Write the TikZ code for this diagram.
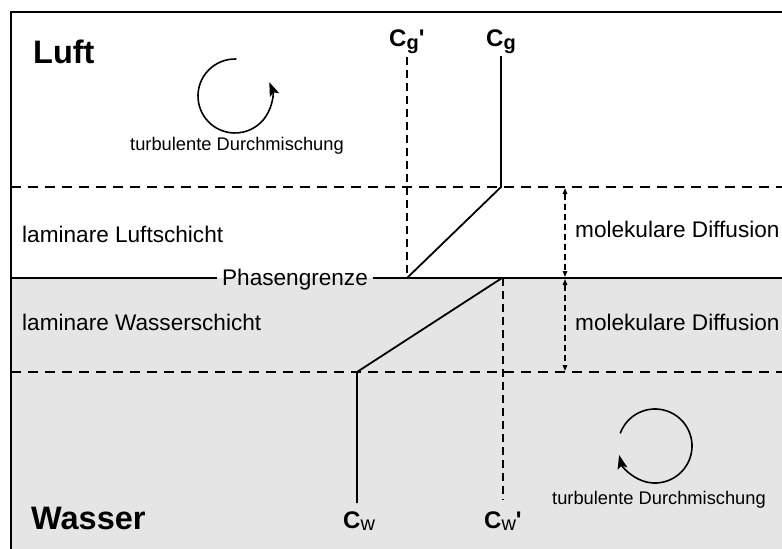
\documentclass[tikz,border=0pt]{standalone}
\usepackage{fontspec}
\setmainfont{Liberation Sans}
\newfontfamily\labelfont{Liberation Sans}
\usetikzlibrary{arrows.meta,calc}
\definecolor{waterfill}{RGB}{229,229,229}
\begin{document}
\begin{tikzpicture}[x=1pt,y=-1pt,
  every node/.style={inner sep=0pt},
  frameline/.style={line width=2.2pt},
  profile/.style={line width=1.8pt},
  layerdash/.style={line width=1.8pt, dash pattern=on 10pt off 7pt},
  profdash/.style={line width=1.8pt, dash pattern=on 8pt off 5pt},
  diffarrow/.style={line width=1.4pt, dash pattern=on 6pt off 4pt,
    {Triangle[length=6pt,width=4.5pt]}-{Triangle[length=6pt,width=4.5pt]}},
  eddy/.style={line width=1.6pt, -{Stealth[length=14pt,width=10pt,inset=3pt]}},
  phaselabel/.style={font=\fontsize{32.5}{36}\selectfont\bfseries, anchor=base west},
  layerlabel/.style={font=\fontsize{22.6}{26}\selectfont, anchor=base west},
  eddylabel/.style={font=\fontsize{18.3}{21}\selectfont, anchor=base},
  conclabel/.style={font=\labelfont\fontsize{24}{28}\selectfont, anchor=base west}
]
\useasboundingbox (0,0) rectangle (782,549);

% water body
\fill[waterfill] (11,278) rectangle (782,549);

% outer frame (top and left)
\draw[frameline] (11,549) -- (11,12) -- (782,12);

% boundaries of the laminar layers
\coordinate (airtopL) at (11,187);
\coordinate (airtopR) at (782,187);
\coordinate (watbotL) at (11,372);
\coordinate (watbotR) at (782,372);
\draw[layerdash] (airtopL) -- (airtopR);
\draw[layerdash] (watbotL) -- (watbotR);

% phase boundary with its label
\coordinate (pgL) at (11,278);
\coordinate (pgR) at (782,278);
\node[layerlabel, anchor=base, inner xsep=5pt] (pg) at (295,285) {Phasengrenze};
\draw[profile] (pgL) -- (pgL -| pg.west);
\draw[profile] (pg.east |- pgR) -- (pgR);

% region labels
\node[phaselabel] (luft) at (33,63) {Luft};
\node[phaselabel] (wasser) at (31,529) {Wasser};
\node[layerlabel] (lamL) at (22,242) {laminare Luftschicht};
\node[layerlabel] (lamW) at (22,330) {laminare Wasserschicht};
\node[layerlabel] (molL) at (575,237) {molekulare Diffusion};
\node[layerlabel] (molW) at (575,330) {molekulare Diffusion};

% concentration labels
\node[conclabel] (cg)  at (486,46) {\bfseries C\raisebox{-3pt}{\fontsize{20}{24}\selectfont g}};
\node[conclabel] (cgp) at (389,46) {\bfseries C\raisebox{-3pt}{\fontsize{20}{24}\selectfont g}'};
\node[conclabel] (cw)  at (343,528) {\textbf{C}\raisebox{-2pt}{\fontsize{20}{24}\selectfont w}};
\node[conclabel] (cwp) at (484,528) {\textbf{C}\raisebox{-2pt}{\fontsize{20}{24}\selectfont w}\textbf{'}};

% concentration profile
\coordinate (cgtop) at (501,56);
\coordinate (cgknee) at (501,187);
\coordinate (cgi) at (407,278);
\coordinate (cgptop) at (407,57);
\coordinate (cwi) at (502,278);
\coordinate (cwknee) at (357,372);
\coordinate (cwbot) at (357,503);
\coordinate (cwpi) at (503,278);
\coordinate (cwpbot) at (503,500);
\draw[profile] (cgtop) -- (cgknee) -- (cgi);
\draw[profdash] (cgptop) -- (cgi);
\draw[profile] (cwi) -- (cwknee) -- (cwbot);
\draw[profdash] (cwpi) -- (cwpbot);

% molecular diffusion ranges
\coordinate (dA) at (565,188);
\coordinate (dB) at (565,277);
\coordinate (dC) at (565,279);
\coordinate (dD) at (565,371);
\draw[diffarrow] (dA) -- (dB);
\draw[diffarrow] (dC) -- (dD);

% turbulent mixing eddies
\coordinate (eddyA) at (235,96);
\coordinate (eddyB) at (655,446);
\draw[eddy] ($(eddyA)+(-88:37)$) arc[start angle=-88, end angle=-382, radius=37];
\draw[eddy] ($(eddyB)+(-160:37)$) arc[start angle=-160, end angle=166, radius=37];
\node[eddylabel] (turbA) at (237,150) {turbulente Durchmischung};
\node[eddylabel] (turbB) at (659,504) {turbulente Durchmischung};
\end{tikzpicture}
\end{document}
